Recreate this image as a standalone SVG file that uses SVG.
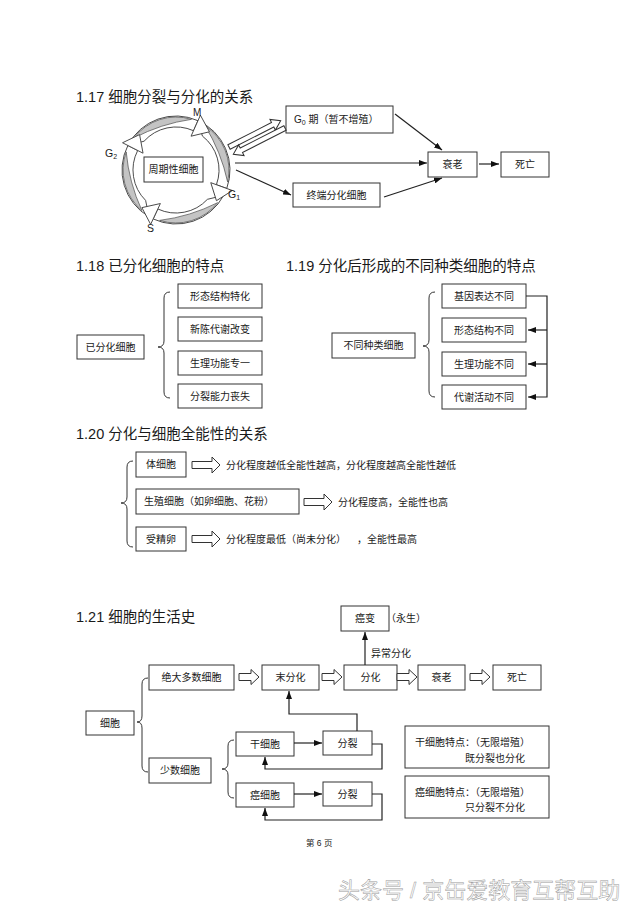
<svg xmlns="http://www.w3.org/2000/svg" width="640" height="906" viewBox="0 0 640 906">
<style>
text{font-family:"Liberation Sans","Noto Sans CJK SC",sans-serif;fill:#1a1a1a}
.t{font-size:14.5px}
.b{font-size:10px}
.c{text-anchor:middle}
.box{fill:#fff;stroke:#333;stroke-width:1}
.ln{fill:none;stroke:#222;stroke-width:1.2}
.ha{fill:#fff;stroke:#333;stroke-width:1}
.br{fill:none;stroke:#333;stroke-width:1}
.cb{fill:#fff;stroke:#444;stroke-width:0.9}
.cl{fill:#c4c4c4;stroke:#555;stroke-width:0.7}
</style>
<defs>
<marker id="ah" markerUnits="userSpaceOnUse" markerWidth="8" markerHeight="6" refX="8" refY="3" orient="auto"><path d="M0,0 L8,3 L0,6 Z" fill="#111"/></marker>
<path id="hbig" d="M0,-3.5 H20 V-8 L28,0 L20,8 V3.5 H0 Z"/>
<path id="hsm" d="M0,-3.5 H12 V-7.5 L20,0 L12,7.5 V3.5 H0 Z"/>
<path id="hlong" d="M0,-2.5 H49 V-6 L58,0 L49,6 V2.5 H0 Z"/>
<path id="cbody" d="M-13.98,-52.16 A54,54 0 0 1 51.36,-16.69 L40.9,-13.29 A43,43 0 0 0 0,-43 Z"/>
<path id="clens" d="M-4.62,-52.8 A53,53 0 0 1 48.03,-22.4 A179,179 0 0 0 -4.62,-52.8 Z"/>
<path id="chead" d="M57.06,-18.54 L50.77,-0.72 L35.19,-11.43 Z"/>
</defs>
<rect width="640" height="906" fill="#fff"/>

<!-- titles -->
<text class="t" x="76" y="102">1.17 细胞分裂与分化的关系</text>
<text class="t" x="76" y="271">1.18 已分化细胞的特点</text>
<text class="t" x="286" y="271">1.19 分化后形成的不同种类细胞的特点</text>
<text class="t" x="76" y="439">1.20 分化与细胞全能性的关系</text>
<text class="t" x="76" y="622">1.21 细胞的生活史</text>

<!-- 1.17 cell cycle -->
<g id="cycle">
<g transform="translate(176,170)">
<use href="#cbody" class="cb" transform="rotate(-48)"/>
<use href="#cbody" class="cb" transform="rotate(38)"/>
<use href="#cbody" class="cb" transform="rotate(133)"/>
<use href="#cbody" class="cb" transform="rotate(225)"/>
<use href="#clens" class="cl" transform="rotate(-48)"/>
<use href="#clens" class="cl" transform="rotate(38)"/>
<use href="#clens" class="cl" transform="rotate(133)"/>
<use href="#clens" class="cl" transform="rotate(225)"/>
<use href="#chead" class="cb" transform="rotate(-48)"/>
<use href="#chead" class="cb" transform="rotate(38)"/>
<use href="#chead" class="cb" transform="rotate(133)"/>
<use href="#chead" class="cb" transform="rotate(225)"/>
</g>
<text x="193" y="116" font-size="10">M</text>
<text x="105" y="157" font-size="10.5">G<tspan font-size="7" dy="2">2</tspan></text>
<text x="147" y="232" font-size="10.5">S</text>
<text x="228" y="198" font-size="10.5">G<tspan font-size="7" dy="2">1</tspan></text>
</g>
<g id="n-zhouqi"><rect class="box" x="144" y="157" width="59" height="25"/><text class="b c" x="173.5" y="173">周期性细胞</text></g>
<g id="n-g0"><rect class="box" x="286" y="106" width="107" height="27"/><text class="b" x="294" y="123">G<tspan font-size="7" dy="2">0</tspan><tspan dy="-2"> 期（暂不增殖）</tspan></text></g>
<g id="n-shuailao1"><rect class="box" x="428" y="152" width="49" height="25"/><text class="b c" x="452.5" y="168">衰老</text></g>
<g id="n-siwang1"><rect class="box" x="501" y="152" width="48" height="25"/><text class="b c" x="525" y="168">死亡</text></g>
<g id="n-zhongduan"><rect class="box" x="293" y="183" width="87" height="24"/><text class="b c" x="336.5" y="198.5">终端分化细胞</text></g>

<!-- 1.18 -->
<g id="n-yifenhua"><rect class="box" x="77" y="335" width="67" height="24"/><text class="b c" x="110.5" y="350.6">已分化细胞</text></g>
<g id="n-18a"><rect class="box" x="178" y="284" width="84" height="24"/><text class="b c" x="220" y="299.6">形态结构特化</text></g>
<g id="n-18b"><rect class="box" x="178" y="317" width="84" height="24"/><text class="b c" x="220" y="332.6">新陈代谢改变</text></g>
<g id="n-18c"><rect class="box" x="178" y="351" width="84" height="24"/><text class="b c" x="220" y="366.6">生理功能专一</text></g>
<g id="n-18d"><rect class="box" x="178" y="384" width="84" height="24"/><text class="b c" x="220" y="399.6">分裂能力丧失</text></g>

<!-- 1.19 -->
<g id="n-butong"><rect class="box" x="332" y="333" width="83" height="25"/><text class="b c" x="373.5" y="349">不同种类细胞</text></g>
<g id="n-19a"><rect class="box" x="442" y="284" width="84" height="24"/><text class="b c" x="484" y="299.6">基因表达不同</text></g>
<g id="n-19b"><rect class="box" x="442" y="318" width="84" height="24"/><text class="b c" x="484" y="333.6">形态结构不同</text></g>
<g id="n-19c"><rect class="box" x="442" y="352" width="84" height="24"/><text class="b c" x="484" y="367.6">生理功能不同</text></g>
<g id="n-19d"><rect class="box" x="442" y="385" width="84" height="24"/><text class="b c" x="484" y="400.6">代谢活动不同</text></g>

<!-- 1.20 -->
<g id="n-tixibao"><rect class="box" x="136" y="452" width="50" height="25"/><text class="b c" x="161" y="468">体细胞</text></g>
<text class="b" x="226" y="469">分化程度越低全能性越高，分化程度越高全能性越低</text>
<g id="n-shengzhi"><rect class="box" x="136" y="489" width="163" height="25"/><text class="b" x="144" y="505">生殖细胞（如卵细胞、花粉）</text></g>
<text class="b" x="338" y="506">分化程度高，全能性也高</text>
<g id="n-shoujingluan"><rect class="box" x="136" y="527" width="50" height="24"/><text class="b c" x="161" y="542.6">受精卵</text></g>
<text class="b" x="226" y="543">分化程度最低（尚未分化）</text>
<text class="b" x="357" y="543">，全能性最高</text>

<!-- 1.21 -->
<g id="n-aibian"><rect class="box" x="341" y="606" width="48" height="25"/><text class="b c" x="365" y="622">癌变</text></g>
<text class="b" x="386" y="622">（永生）</text>
<text class="b" x="371" y="657">异常分化</text>
<g id="n-jueda"><rect class="box" x="149" y="665" width="85" height="25"/><text class="b c" x="191.5" y="681">绝大多数细胞</text></g>
<g id="n-weifenhua"><rect class="box" x="262" y="665" width="57" height="25"/><text class="b c" x="290.5" y="681">末分化</text></g>
<g id="n-fenhua"><rect class="box" x="344" y="665" width="53" height="25"/><text class="b c" x="370.5" y="681">分化</text></g>
<g id="n-shuailao2"><rect class="box" x="418" y="665" width="47" height="25"/><text class="b c" x="441.5" y="681">衰老</text></g>
<g id="n-siwang2"><rect class="box" x="493" y="665" width="48" height="25"/><text class="b c" x="517" y="681">死亡</text></g>
<g id="n-xibao"><rect class="box" x="86" y="711" width="48" height="24"/><text class="b c" x="110" y="726.6">细胞</text></g>
<g id="n-shaoshu"><rect class="box" x="149" y="758" width="62" height="25"/><text class="b c" x="180" y="774">少数细胞</text></g>
<g id="n-gan"><rect class="box" x="236" y="732" width="58" height="24"/><text class="b c" x="265" y="747.6">干细胞</text></g>
<g id="n-fenlie1"><rect class="box" x="323" y="731" width="49" height="24"/><text class="b c" x="347.5" y="746.6">分裂</text></g>
<g id="n-ai"><rect class="box" x="236" y="783" width="58" height="24"/><text class="b c" x="265" y="798.6">癌细胞</text></g>
<g id="n-fenlie2"><rect class="box" x="323" y="782" width="49" height="24"/><text class="b c" x="347.5" y="797.6">分裂</text></g>
<g id="n-info1"><rect class="box" x="405" y="726" width="144" height="42"/><text class="b" x="415" y="746">干细胞特点：（无限增殖）</text><text class="b" x="465" y="762">既分裂也分化</text></g>
<g id="n-info2"><rect class="box" x="405" y="776" width="144" height="42"/><text class="b" x="415" y="796">癌细胞特点：（无限增殖）</text><text class="b" x="465" y="811">只分裂不分化</text></g>

<text x="306" y="846" font-size="8.5">第 6 页</text>
<text x="338" y="898" font-size="22" stroke="#999" stroke-width="0.5" style="fill:#fff">头条号 / 京缶爱教育互帮互助</text>

<!-- connectors -->
<g id="connectors">
<use href="#hlong" class="ha" transform="translate(229,147) rotate(-27)"/>
<use href="#hlong" class="ha" transform="translate(285,128) rotate(153)"/>
<path class="ln" d="M235,163 H427" marker-end="url(#ah)" stroke-width="1.4"/>
<path class="ln" d="M236,170 L291,195" marker-end="url(#ah)" stroke-width="1.5"/>
<path class="ln" d="M395,114 L442,150" marker-end="url(#ah)"/>
<path class="ln" d="M384,197 L442,178" marker-end="url(#ah)" stroke-width="1.5"/>
<path class="ln" d="M479,164 H499" marker-end="url(#ah)"/>

<path class="br" d="M170,292 Q164,292 164,298 V341 Q164,347 158,347 Q164,347 164,353 V392 Q164,398 170,398"/>
<path class="br" d="M435,292 Q429,292 429,298 V340 Q429,346 423,346 Q429,346 429,352 V391 Q429,397 435,397"/>
<path class="ln" d="M526,296 H547 V397 H528" marker-end="url(#ah)" stroke-width="1"/>
<path class="ln" d="M547,330 H528" marker-end="url(#ah)" stroke-width="1"/>
<path class="ln" d="M547,364 H528" marker-end="url(#ah)" stroke-width="1"/>

<path class="br" d="M133,461 Q127,461 127,467 V497 Q127,503 121,503 Q127,503 127,509 V541 Q127,547 133,547"/>
<use href="#hbig" class="ha" x="192" y="465"/>
<use href="#hbig" class="ha" x="304" y="502"/>
<use href="#hbig" class="ha" x="192" y="539"/>

<path class="ln" d="M365,665 V632" marker-end="url(#ah)" stroke-width="1"/>
<use href="#hsm" class="ha" x="239" y="677"/>
<use href="#hsm" class="ha" x="322" y="677"/>
<use href="#hsm" class="ha" x="397" y="677"/>
<use href="#hsm" class="ha" x="470" y="677"/>
<path class="br" d="M148,678 Q142,678 142,684 V716 Q142,722 137,722 Q142,722 142,728 V766 Q142,772 148,772"/>
<path class="br" d="M234,740 Q228,740 228,746 V763 Q228,769 222,769 Q228,769 228,775 V792 Q228,798 234,798"/>
<path class="ln" d="M294,743 H322" marker-end="url(#ah)" stroke-width="1"/>
<path class="ln" d="M372,744 H382 V769 H265 V757" marker-end="url(#ah)" stroke-width="1"/>
<path class="ln" d="M357,731 V714 H289 V691" marker-end="url(#ah)" stroke-width="1.6"/>
<path class="ln" d="M294,794 H322" marker-end="url(#ah)" stroke-width="1"/>
<path class="ln" d="M372,794 H382 V820 H265 V808" marker-end="url(#ah)" stroke-width="1"/>
</g>
</svg>
